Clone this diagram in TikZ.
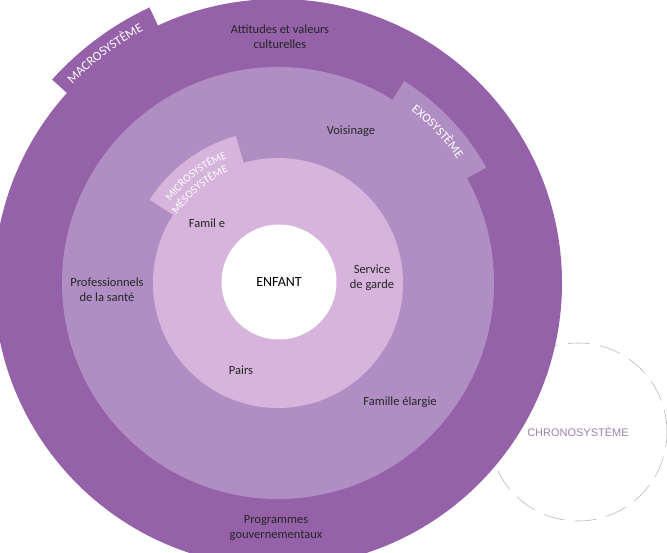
\documentclass[tikz,border=0pt]{standalone}
\usepackage{fontspec}
\newfontfamily\labelfont{Carlito}
\newfontfamily\chronofont{Liberation Sans}
\usepackage{xcolor}
\usetikzlibrary{calc, decorations.text}

\definecolor{macrocol}{HTML}{9561A8}
\definecolor{exocol}{HTML}{B08EC4}
\definecolor{microcol}{HTML}{D6B4DC}
\definecolor{chronocol}{HTML}{9E80AE}

\tikzset{
  ringtext/.style={font=\labelfont\fontsize{12.5}{15}\selectfont, text=black!85, align=center},
  chrono/.style={circle, draw=gray!55, line width=0.6pt, dash pattern=on 22pt off 10pt,
                 minimum size=178pt, inner sep=0pt, text=chronocol,
                 font=\chronofont\fontsize{11}{12}\selectfont}
}

\begin{document}
\begin{tikzpicture}[x=1pt,y=1pt]
\useasboundingbox (0,0) rectangle (667,-553);
\clip (0,0) rectangle (667,-553);
\coordinate (c) at (278,-283);

% chronosysteme, behind the rings
\node[chrono] (chrono) at (578,-432) {CHRONOSYSTÈME};

% macrosysteme
\fill[macrocol] ($(c)+(115:270)$) arc[start angle=115, end angle=138, radius=270]
      -- ($(c)+(138:304)$) arc[start angle=138, end angle=115, radius=304] -- cycle;
\fill[macrocol] (c) circle[radius=284];
\path[decorate, decoration={text along path, text align=center,
      text={|\color{white}\labelfont\fontsize{13}{14}\selectfont|MACROSYSTÈME}}]
      ($(c)+(150:286)$) arc[start angle=150, end angle=104, radius=286];

% exosysteme
\fill[exocol] ($(c)+(29:200)$) arc[start angle=29, end angle=58, radius=200]
      -- ($(c)+(58:238)$) arc[start angle=58, end angle=29, radius=238] -- cycle;
\fill[exocol] (c) circle[radius=216];
\path[decorate, decoration={text along path, text align=center,
      text={|\color{white}\labelfont\fontsize{12.5}{14}\selectfont|EXOSYSTÈME}}]
      ($(c)+(70:218)$) arc[start angle=70, end angle=17, radius=218];

% micro- et mesosysteme
\fill[microcol] ($(c)+(106:110)$) arc[start angle=106, end angle=147, radius=110]
      -- ($(c)+(147:153)$) arc[start angle=147, end angle=106, radius=153] -- cycle;
\fill[microcol] (c) circle[radius=125];
\path[decorate, decoration={text along path, text align=center,
      text={|\color{white}\labelfont\fontsize{11}{12}\selectfont|MICROSYSTÈME}}]
      ($(c)+(165:135)$) arc[start angle=165, end angle=90, radius=135];
\path[decorate, decoration={text along path, text align=center,
      text={|\color{white}\labelfont\fontsize{11}{12}\selectfont|MÉSOSYSTÈME}}]
      ($(c)+(168:122)$) arc[start angle=168, end angle=92, radius=122];

% enfant
\node[circle, fill=white, minimum size=115pt, inner sep=0pt,
      font=\labelfont\fontsize{14}{16}\selectfont] (enfant) at (279,-282) {ENFANT};

% labels
\node[ringtext] (attitudes) at (280,-37) {Attitudes et valeurs\\culturelles};
\node[ringtext] (voisinage) at (351,-131) {Voisinage};
\node[ringtext] (famille) at (207,-223) {Famil e};
\node[ringtext] (garde) at (372,-278) {Service\\de garde};
\node[ringtext] (sante) at (107,-290) {Professionnels\\de la santé};
\node[ringtext] (pairs) at (241,-370) {Pairs};
\node[ringtext] (elargie) at (400,-402) {Famille élargie};
\node[ringtext] (programmes) at (276,-528) {Programmes\\gouvernementaux};
\end{tikzpicture}
\end{document}
